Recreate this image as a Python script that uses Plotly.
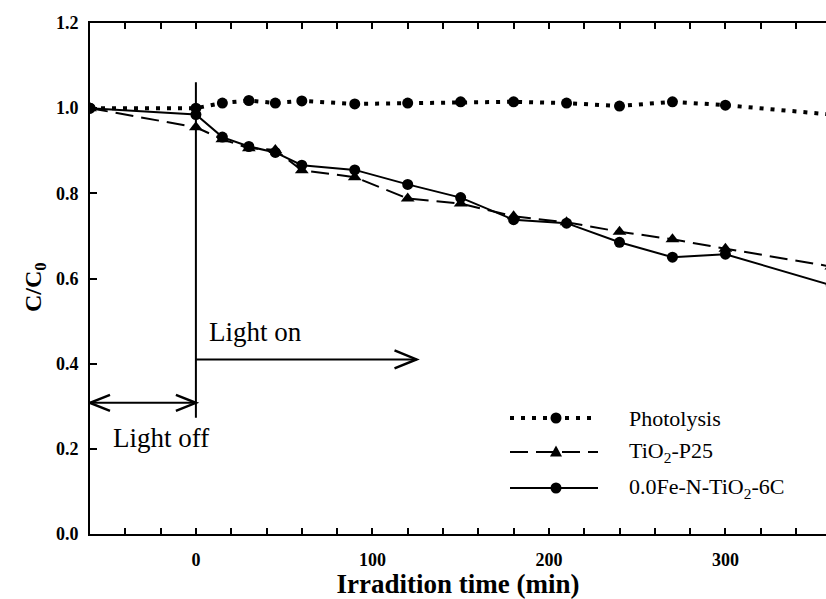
import plotly.graph_objects as go

# ---------------- data ----------------
time_min = [-60, 0, 15, 30, 45, 60, 90, 120, 150, 180, 210, 240, 270, 300, 360]
photolysis = [1.000, 1.000, 1.012, 1.018, 1.012, 1.017, 1.010, 1.012, 1.015, 1.015, 1.012, 1.005, 1.015, 1.007, 0.985]
tio2_p25 = [1.000, 0.955, 0.927, 0.906, 0.902, 0.854, 0.838, 0.788, 0.776, 0.746, 0.732, 0.710, 0.692, 0.670, 0.628]
fe_n_tio2 = [1.000, 0.985, 0.932, 0.910, 0.896, 0.866, 0.855, 0.821, 0.790, 0.738, 0.730, 0.685, 0.650, 0.657, 0.584]

series_names = ["Photolysis", "TiO<sub>2</sub>-P25", "0.0Fe-N-TiO<sub>2</sub>-6C"]

x_tickvals = [0, 100, 200, 300]
x_ticktext = ["0", "100", "200", "300"]
y_tickvals = [0.0, 0.2, 0.4, 0.6, 0.8, 1.0, 1.2]
y_ticktext = ["0.0", "0.2", "0.4", "0.6", "0.8", "1.0", "1.2"]

SERIF = "Liberation Serif, Times New Roman, serif"

fig = go.Figure()

fig.add_trace(go.Scatter(
    x=time_min, y=photolysis, mode="lines+markers", name=series_names[0],
    line=dict(color="black", width=4, dash="4px,7px"),
    marker=dict(symbol="circle", size=11, color="black"),
    showlegend=False))
fig.add_trace(go.Scatter(
    x=time_min, y=tio2_p25, mode="lines+markers", name=series_names[1],
    line=dict(color="black", width=2, dash="18px,8px"),
    marker=dict(symbol="triangle-up", size=12, color="black"),
    showlegend=False))
fig.add_trace(go.Scatter(
    x=time_min, y=fe_n_tio2, mode="lines+markers", name=series_names[2],
    line=dict(color="black", width=2),
    marker=dict(symbol="circle", size=11, color="black"),
    showlegend=False))

shapes = []
annotations = []

# vertical "light switched on" line at t = 0
shapes.append(dict(type="line", xref="x", yref="y", x0=0, x1=0, y0=0.273, y1=1.061,
                   line=dict(color="black", width=2)))

# Light on arrow (shaft + open chevron head)
LIGHT_ON_Y = 0.41
LIGHT_OFF_Y = 0.308
shapes.append(dict(type="line", xref="x", yref="y", x0=0, x1=125, y0=LIGHT_ON_Y, y1=LIGHT_ON_Y,
                   line=dict(color="black", width=2)))
shapes.append(dict(type="path", xref="x", yref="y", xsizemode="pixel", ysizemode="pixel",
                   xanchor=125, yanchor=LIGHT_ON_Y, path="M-22,-9 L0,0 L-22,9",
                   line=dict(color="black", width=2.5)))
# Light off double arrow
shapes.append(dict(type="line", xref="x", yref="y", x0=-60, x1=0, y0=LIGHT_OFF_Y, y1=LIGHT_OFF_Y,
                   line=dict(color="black", width=2)))
shapes.append(dict(type="path", xref="x", yref="y", xsizemode="pixel", ysizemode="pixel",
                   xanchor=0, yanchor=LIGHT_OFF_Y, path="M-20,-8 L0,0 L-20,8",
                   line=dict(color="black", width=2.5)))
shapes.append(dict(type="path", xref="x", yref="y", xsizemode="pixel", ysizemode="pixel",
                   xanchor=-60, yanchor=LIGHT_OFF_Y, path="M20,-8 L0,0 L20,8",
                   line=dict(color="black", width=2.5)))

annotations.append(dict(x=34, y=0.475, xref="x", yref="y", text="Light on", showarrow=False,
                        font=dict(family=SERIF, size=27, color="black")))
annotations.append(dict(x=-20, y=0.226, xref="x", yref="y", text="Light off", showarrow=False,
                        font=dict(family=SERIF, size=27, color="black")))

# ---- layout geometry ----
W, H = 826, 599
L, R, T, B = 90, 0, 23, 65
pw, ph = W - L - R, H - T - B

def px_x(p):
    return (p - L) / pw

def px_y(p):
    return (H - B - p) / ph

# y-axis title
annotations.append(dict(x=px_x(35), y=px_y(287), xref="paper", yref="paper",
                        text="<b>C/C<sub>0</sub></b>", showarrow=False, textangle=-90,
                        xanchor="center", yanchor="middle",
                        font=dict(family=SERIF, size=24, color="black")))

# ---- manual legend ----
leg_rows = [418, 452, 488]
leg_dash = ["4px,7px", "18px,8px", "solid"]
leg_w = [4, 2, 2]
for row, name, dash, w in zip(leg_rows, series_names, leg_dash, leg_w):
    shapes.append(dict(type="line", xref="paper", yref="paper", x0=px_x(510), x1=px_x(598),
                       y0=px_y(row), y1=px_y(row), line=dict(color="black", width=w, dash=dash)))
    annotations.append(dict(x=px_x(627), y=px_y(row), xref="paper", yref="paper", text=name,
                            showarrow=False, xanchor="left", yanchor="middle",
                            font=dict(family=SERIF, size=22, color="black")))
for row in (leg_rows[0], leg_rows[2]):
    shapes.append(dict(type="circle", xref="paper", yref="paper", xsizemode="pixel", ysizemode="pixel",
                       xanchor=px_x(556), yanchor=px_y(row), x0=-5.5, x1=5.5, y0=-5.5, y1=5.5,
                       fillcolor="black", line=dict(color="black", width=0)))
shapes.append(dict(type="path", xref="paper", yref="paper", xsizemode="pixel", ysizemode="pixel",
                   xanchor=px_x(556), yanchor=px_y(leg_rows[1]),
                   path="M-6,-4.5 L6,-4.5 L0,6.5 Z",
                   fillcolor="black", line=dict(color="black", width=0)))

fig.update_layout(
    width=W, height=H,
    margin=dict(l=L, r=R, t=T, b=B, pad=0),
    paper_bgcolor="white", plot_bgcolor="white",
    font=dict(family=SERIF, color="black"),
    shapes=shapes, annotations=annotations,
    showlegend=False,
)
fig.update_xaxes(
    range=[-60, 357], tickmode="array", tickvals=x_tickvals, ticktext=x_ticktext,
    ticks="inside", ticklen=6, tickwidth=1.5, tickcolor="black",
    minor=dict(tick0=0, dtick=20, ticks="inside", ticklen=6, tickwidth=1.5, tickcolor="black",
               showgrid=False),
    showline=True, linewidth=2, linecolor="black", mirror="ticks",
    showgrid=False, zeroline=False,
    tickfont=dict(family=SERIF, size=18, color="black", weight="bold"),
    ticklabelstandoff=8,
    title=dict(text="<b>Irradition time (min)</b>", font=dict(family=SERIF, size=27, color="black"),
               standoff=5),
)
fig.update_yaxes(
    range=[0, 1.2], tickmode="array", tickvals=y_tickvals, ticktext=y_ticktext,
    ticks="inside", ticklen=7, tickwidth=1.5, tickcolor="black",
    showline=True, linewidth=2, linecolor="black", mirror=False,
    showgrid=False, zeroline=False,
    tickfont=dict(family=SERIF, size=18, color="black", weight="bold"),
    ticklabelstandoff=6,
)

fig.write_html("out.html")
